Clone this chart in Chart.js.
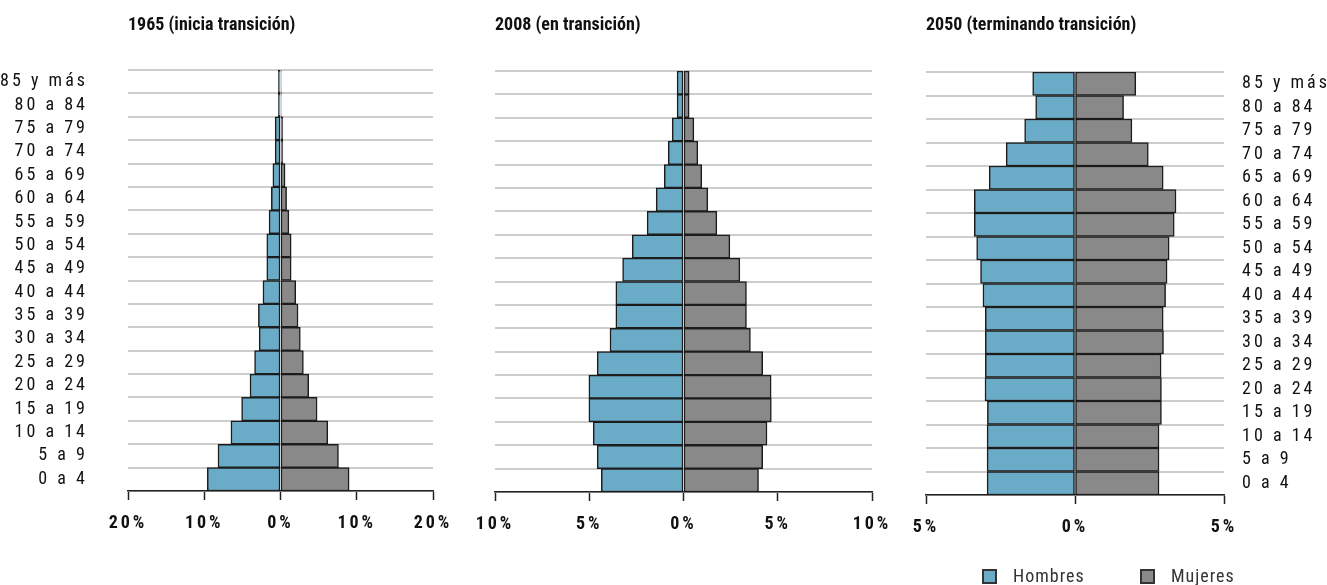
<!DOCTYPE html>
<html lang="es">
<head>
<meta charset="utf-8">
<title>Pirámides de población</title>
<script src="https://cdn.jsdelivr.net/npm/chart.js@4/dist/chart.umd.min.js"></script>
<style>
  body { margin: 0; background: #fff; width: 1327px; height: 585px; overflow: hidden; position: relative;
         font-family: 'Roboto Condensed', Roboto, sans-serif; }
  .panel { position: absolute; top: 0; height: 585px; }
  #p1965 { left: 0; width: 460px; }
  #p2008 { left: 460px; width: 440px; }
  #p2050 { left: 900px; width: 427px; }
  .legend-item { position: absolute; top: 566px; font-size: 18px; color: #333; line-height: 20px; letter-spacing: 1px; }
  .legend-item span { position: absolute; left: 0; top: 3px; width: 11px; height: 11px; border: 2px solid #333; }
  .legend-item b { font-weight: normal; position: absolute; left: 31px; white-space: nowrap; }
</style>
</head>
<body>
<div class="panel" id="p1965"><canvas id="c1965"></canvas></div>
<div class="panel" id="p2008"><canvas id="c2008"></canvas></div>
<div class="panel" id="p2050"><canvas id="c2050"></canvas></div>
<div class="legend-item" style="left:982px"><span id="swMen"></span><b>Hombres</b></div>
<div class="legend-item" style="left:1140px"><span id="swWomen"></span><b>Mujeres</b></div>

<script>
// age groups, youngest first (drawn bottom to top)
const ages = ['0 a 4', '5 a 9', '10 a 14', '15 a 19', '20 a 24', '25 a 29', '30 a 34', '35 a 39', '40 a 44',
  '45 a 49', '50 a 54', '55 a 59', '60 a 64', '65 a 69', '70 a 74', '75 a 79', '80 a 84', '85 y más'];

// % of total population
const men1965 = [9.6, 8.2, 6.5, 5.1, 4.0, 3.4, 2.8, 2.9, 2.3, 1.8, 1.8, 1.5, 1.2, 1.0, 0.7, 0.7, 0.3, 0.3];
const women1965 = [9.0, 7.6, 6.2, 4.8, 3.7, 3.0, 2.6, 2.3, 2.0, 1.4, 1.4, 1.1, 0.8, 0.6, 0.3, 0.3, 0.1, 0.1];
const men2008 = [4.36, 4.58, 4.79, 5.02, 5.02, 4.58, 3.9, 3.59, 3.59, 3.23, 2.72, 1.93, 1.45, 1.02, 0.81, 0.6, 0.34, 0.34];
const women2008 = [3.98, 4.2, 4.43, 4.66, 4.65, 4.2, 3.55, 3.34, 3.34, 2.99, 2.46, 1.77, 1.29, 0.97, 0.76, 0.55, 0.3, 0.3];
const men2050 = [2.95, 2.95, 2.95, 2.94, 3.02, 3.01, 3.01, 3.01, 3.09, 3.17, 3.3, 3.38, 3.38, 2.88, 2.31, 1.69, 1.32, 1.42];
const women2050 = [2.82, 2.82, 2.82, 2.9, 2.9, 2.89, 2.97, 2.96, 3.04, 3.09, 3.16, 3.33, 3.39, 2.96, 2.46, 1.91, 1.63, 2.04];

// x axis tick values
const ticks1965 = [-20, -10, 0, 10, 20];
const ticks2008 = [-10, -5, 0, 5, 10];
const ticks2050 = [-5, 0, 5];

const menColor = '#6aabc8';
const womenColor = '#898989';
const edgeColor = '#1c1c1c';
const font = "'Roboto Condensed', Roboto, sans-serif";

document.getElementById('swMen').style.background = menColor;
document.getElementById('swWomen').style.background = womenColor;

// tick labels are drawn after the bars (ticks.z = 1), so only they get the wide spacing
const spacedTicks = {
  id: 'spacedTicks',
  beforeDraw(chart) { chart.ctx.letterSpacing = '0px'; },
  afterDatasetsDraw(chart) { chart.ctx.letterSpacing = '3px'; },
  afterDraw(chart) { chart.ctx.letterSpacing = '0px'; }
};

function pyramid(canvasId, title, men, women, xTicks, o) {
  const ctx = document.getElementById(canvasId).getContext('2d');
  return new Chart(ctx, {
    type: 'bar',
    data: {
      labels: ages,
      datasets: [
        { label: 'Hombres', data: men.map(v => -v), backgroundColor: menColor },
        { label: 'Mujeres', data: women, backgroundColor: womenColor }
      ]
    },
    options: {
      indexAxis: 'y',
      responsive: true,
      maintainAspectRatio: false,
      animation: false,
      layout: { padding: { left: o.padLeft, right: o.padRight, top: 0, bottom: 0 } },
      datasets: {
        bar: { categoryPercentage: 1, barPercentage: 1, borderWidth: 1.5, borderColor: edgeColor, borderSkipped: false }
      },
      plugins: {
        legend: { display: false },
        tooltip: { enabled: false },
        title: {
          display: true, text: title, align: 'start', fullSize: false, color: '#111',
          font: { family: font, size: 18, weight: 'bold', lineHeight: 1.2 },
          padding: { top: 15, bottom: o.top - 15 - 21.6 }
        }
      },
      scales: {
        x: {
          stacked: true,
          min: xTicks[0], max: xTicks[xTicks.length - 1],
          afterBuildTicks: s => { s.ticks = xTicks.map(v => ({ value: v })); },
          afterFit: s => { s.height = 585 - o.bottom; s.paddingLeft = 0; s.paddingRight = 0; },
          grid: { drawOnChartArea: false, drawTicks: true, tickLength: 9, tickColor: '#222', tickWidth: 1.5 },
          border: { color: '#222', width: 1.5 },
          ticks: {
            z: 1, padding: 13, maxRotation: 0, autoSkip: false, color: '#111',
            font: { family: font, size: 18, weight: 'bold' },
            callback: v => Math.abs(v) + '%'
          }
        },
        y: {
          stacked: true,
          reverse: true,
          position: o.yPos,
          afterFit: s => { s.width = o.yWidth; },
          grid: { color: '#cdcdcd', lineWidth: 2, drawTicks: false, offset: true },
          border: { display: false },
          ticks: {
            display: o.showLabels, autoSkip: false, z: 1, padding: o.labelPad, color: '#111',
            font: { family: font, size: 18 }
          }
        }
      }
    },
    plugins: [spacedTicks]
  });
}

pyramid('c1965', '1965 (inicia transición)', men1965, women1965, ticks1965,
  { top: 70, bottom: 491, padLeft: 0, padRight: 27, yWidth: 128, yPos: 'left', showLabels: true, labelPad: 40 });
pyramid('c2008', '2008 (en transición)', men2008, women2008, ticks2008,
  { top: 71, bottom: 492, padLeft: 35, padRight: 28, yWidth: 0, yPos: 'left', showLabels: false, labelPad: 0 });
pyramid('c2050', '2050 (terminando transición)', men2050, women2050, ticks2050,
  { top: 72, bottom: 495, padLeft: 26, padRight: 0, yWidth: 103, yPos: 'right', showLabels: true, labelPad: 18 });
</script>
</body>
</html>
